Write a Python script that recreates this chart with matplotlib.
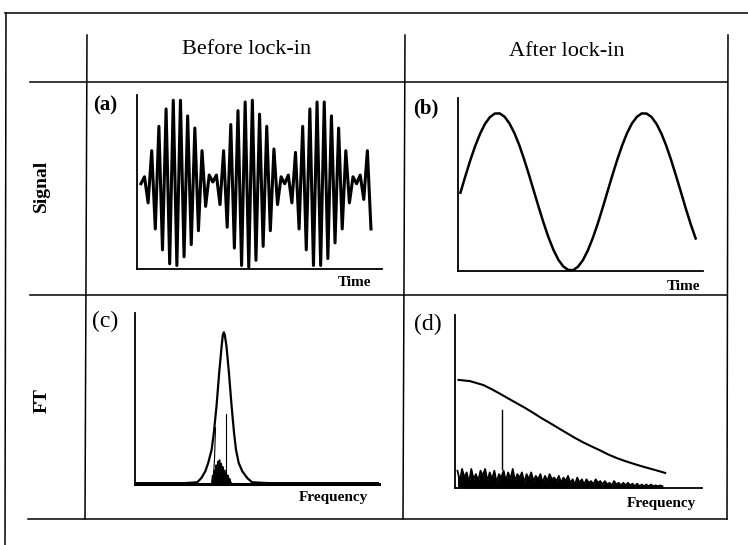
import matplotlib
matplotlib.use("Agg")
import matplotlib.pyplot as plt
import numpy as np

plt.rcParams['font.family'] = ['Liberation Serif', 'DejaVu Serif']

# (a) signal before lock-in: successive peaks / troughs of the beating signal
beat_values = [49, 53, 38, 68, 23, 82, 11, 92, 3, 97, 2, 97, 7, 88, 14, 81, 22, 68, 36,
               54, 50, 54,
               37, 68, 24, 83, 12, 91, 2, 96, 1, 97, 5, 89, 13, 82, 22, 69, 37,
               53, 49, 54,
               38, 67, 23, 82, 11, 92, 2, 96, 2, 96, 6, 88, 15, 81, 23, 68, 38,
               53, 49, 54,
               40, 68, 23]
beat_start, beat_end = 1.6, 95.5

# (b) signal after lock-in (sampled every 2 time units from t = 1)
sine_t = np.arange(1, 98, 2)
sine_values = [45.3, 54.8, 63.9, 72.2, 79.3, 85.0, 88.9, 91.0, 91.1, 89.2, 85.3, 79.8,
               72.8, 64.5, 55.5, 46.0, 36.6, 27.5, 19.2, 12.1, 6.4, 2.6, 0.6, 0.5,
               2.5, 6.3, 11.9, 19.0, 27.2, 36.3, 45.8, 55.3, 64.3, 72.6, 79.7, 85.3,
               89.1, 91.1, 91.0, 89.0, 85.1, 79.5, 72.4, 64.1, 55.0, 45.6, 36.0, 27.0, 18.8]

# (c) spectrum before lock-in
peak_f = [0, 20, 25.5, 27.2, 28.8, 30, 31.4, 32.3, 33.4, 34.5, 35.5, 36.0, 36.4, 36.8,
          37.5, 38.5, 39.6, 40.6, 41.4, 42.5, 44.0, 46.0, 48.0, 55, 100]
peak_amp = [0.5, 0.5, 1, 3.5, 7.4, 12.3, 20, 29.8, 45.4, 65, 80.5, 87.2, 88.7, 87.2,
            80.5, 65, 45.4, 29.8, 20, 12.3, 7.4, 3.5, 1, 0.5, 0.5]
inner_left_f = [33.0, 32.6, 32.0]
inner_left_amp = [33, 15, 0.5]
inner_right_f = [37.4, 37.4]
inner_right_amp = [41, 0.5]
noise_c = [0.5, 5, 1, 8, 2, 11, 4, 13, 6, 14, 3, 12, 7, 10, 2, 8, 3, 6, 1, 5, 2, 3, 1, 0.5]
noise_c_range = (31.5, 39.5)

# (d) spectrum after lock-in
wide_f = [1.4, 6, 11.5, 15, 18.2, 21.5, 25, 28.5, 31.8, 35, 38.5, 42, 45.3, 48.5, 52,
          55.5, 58.8, 62, 65.5, 69, 72.3, 75.5, 79, 82, 85.1]
wide_amp = [62.5, 61.8, 59.5, 57, 54.5, 51.8, 49, 46.2, 43.3, 40.4, 37.5, 34.5, 31.7,
            29, 26.3, 23.9, 21.7, 19.4, 17.3, 15.5, 14, 12.6, 11.2, 10, 8.7]
line_f = [19, 19]
line_amp = [11, 45]
noise_d = [10, 4, 11, 6, 9, 3, 11, 5, 8, 4, 10, 7, 11, 4, 9, 5, 10, 3, 8, 6,
           10, 4, 9, 5, 11, 4, 8, 6, 9, 3, 8, 5, 9, 4, 7, 5, 8, 3, 7, 4,
           8, 5, 6, 4, 7, 3, 6, 4, 7, 3, 5, 2, 6, 3, 5, 2, 5, 3, 4, 2,
           5, 3, 4, 2, 4, 2, 3, 1.5, 4, 2, 3, 1.5, 3, 1.5, 3, 1.5, 2.5, 1, 2.5, 1,
           2, 1, 2, 1, 2, 1, 1.5, 1, 1.5, 1]
noise_d_range = (1.0, 84.0)

W, H = 748, 545
fig = plt.figure(figsize=(W / 100, H / 100), dpi=100)

# background layer in pixel coordinates for the table frame and labels
bg = fig.add_axes([0, 0, 1, 1])
bg.set_xlim(0, W)
bg.set_ylim(H, 0)
bg.axis('off')

frame_lines = [((5, 748), (13, 13)), ((6, 5), (13, 545)),
               ((30, 727), (82, 82)), ((30, 727), (295, 295)), ((28, 727), (519, 519)),
               ((87, 85), (35, 519)), ((405, 403), (35, 519)), ((728, 727), (35, 519))]
for xs, ys in frame_lines:
    bg.plot(xs, ys, color='black', lw=1.1)

bg.text(247, 49, 'Before lock-in', fontsize=16, ha='center', va='center')
bg.text(567, 51, 'After lock-in', fontsize=16, ha='center', va='center')
bg.text(41, 186, 'Signal', fontsize=14, fontweight='bold', rotation=90, ha='center', va='center')
bg.text(42, 401, 'FT', fontsize=14, fontweight='bold', rotation=90, ha='center', va='center')
bg.text(93, 105, '(a)', fontsize=15, fontweight='bold', ha='left', va='center')
bg.text(413, 108, '(b)', fontsize=15, fontweight='bold', ha='left', va='center')
bg.text(92, 321, '(c)', fontsize=17, ha='left', va='center')
bg.text(414, 324, '(d)', fontsize=17, ha='left', va='center')
bg.text(371, 283, 'Time', fontsize=11, fontweight='bold', ha='right', va='center')
bg.text(700, 287, 'Time', fontsize=11, fontweight='bold', ha='right', va='center')
bg.text(368, 498, 'Frequency', fontsize=11, fontweight='bold', ha='right', va='center')
bg.text(696, 503, 'Frequency', fontsize=11, fontweight='bold', ha='right', va='center')


def panel(left, top, right, bottom):
    ax = fig.add_axes([left / W, 1 - bottom / H, (right - left) / W, (bottom - top) / H])
    ax.set_xlim(0, 100)
    ax.set_ylim(0, 100)
    ax.patch.set_alpha(0)
    for side in ['top', 'right']:
        ax.spines[side].set_visible(False)
    for side in ['left', 'bottom']:
        ax.spines[side].set_linewidth(1.3)
    ax.set_xticks([])
    ax.set_yticks([])
    return ax


ax_a = panel(137, 95, 382, 269)
ax_a.plot(np.linspace(beat_start, beat_end, len(beat_values)), beat_values,
          color='black', lw=2.2, solid_joinstyle='round')

ax_b = panel(458, 98, 703, 271)
ax_b.plot(sine_t, sine_values, color='black', lw=1.8)

ax_c = panel(135, 313, 379, 484)
ax_c.plot(peak_f, peak_amp, color='black', lw=1.6)
ax_c.plot(inner_left_f, inner_left_amp, color='black', lw=0.8)
ax_c.plot(inner_right_f, inner_right_amp, color='black', lw=0.8)
nc_x = np.linspace(*noise_c_range, len(noise_c))
ax_c.fill_between(nc_x, 0, noise_c, color='black', lw=0)
ax_c.plot(nc_x, noise_c, color='black', lw=1.2)
ax_c.spines['bottom'].set_linewidth(2.2)

ax_d = panel(455, 315, 702, 488)
ax_d.plot(wide_f, wide_amp, color='black', lw=1.5)
ax_d.plot(line_f, line_amp, color='black', lw=1.0)
nd_x = np.linspace(*noise_d_range, len(noise_d))
ax_d.fill_between(nd_x, 0, noise_d, color='black', lw=0)
ax_d.plot(nd_x, noise_d, color='black', lw=1.3)

fig.savefig('out.png', dpi=100)
